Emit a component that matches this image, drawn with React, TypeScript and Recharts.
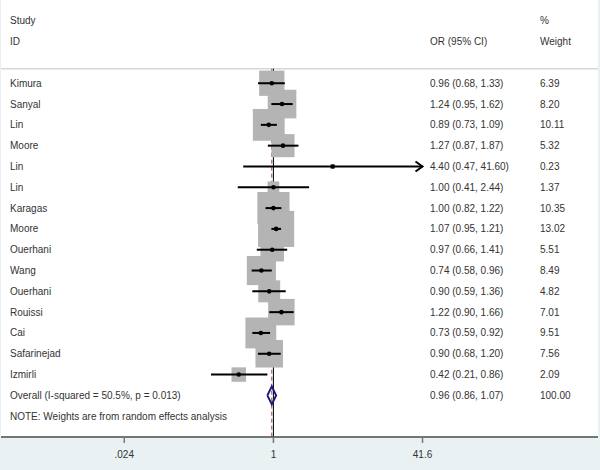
import React from 'react';
import { ComposedChart, Scatter, XAxis, YAxis, ReferenceLine, CartesianGrid } from 'recharts';

// ---- data ----
const studies = ['Kimura', 'Sanyal', 'Lin', 'Moore', 'Lin', 'Lin', 'Karagas', 'Moore', 'Ouerhani', 'Wang', 'Ouerhani', 'Rouissi', 'Cai', 'Safarinejad', 'Izmirli'];
const orValues = [0.96, 1.24, 0.89, 1.27, 4.40, 1.00, 1.00, 1.07, 0.97, 0.74, 0.90, 1.22, 0.73, 0.90, 0.42];
const ciLower = [0.68, 0.95, 0.73, 0.87, 0.47, 0.41, 0.82, 0.95, 0.66, 0.58, 0.59, 0.90, 0.59, 0.68, 0.21];
const ciUpper = [1.33, 1.62, 1.09, 1.87, 41.60, 2.44, 1.22, 1.21, 1.41, 0.96, 1.36, 1.66, 0.92, 1.20, 0.86];
const weights = [6.39, 8.20, 10.11, 5.32, 0.23, 1.37, 10.35, 13.02, 5.51, 8.49, 4.82, 7.01, 9.51, 7.56, 2.09];

const overallLabel = 'Overall  (I-squared = 50.5%, p = 0.013)';
const overallOR = 0.96;
const overallLower = 0.86;
const overallUpper = 1.07;
const overallWeight = 100.0;
const noteText = 'NOTE: Weights are from random effects analysis';

const headerTop = ['Study', '', '%'];
const headerBottom = ['ID', 'OR (95% CI)', 'Weight'];

const xTicks = [0.024, 1, 41.6];
const xTickLabels = ['.024', '1', '41.6'];

// ---- layout constants ----
const W = 600;
const H = 470;
const X_WINDOW: [number, number] = [0.0011, 3350];
const AXIS_HIGH = 41.6;
const Y_WINDOW: [number, number] = [-4, 17];
const SEPARATOR_ROW = -0.7;
const DIAMOND_HALF = 0.43;
const BOX_SCALE = 10;
const COL_X = [10, 430, 540];
const FONT = '"Liberation Sans", Arial, sans-serif';
const TEXT_COLOR = '#333';

const fmt = (v: number) => v.toFixed(2);

const n = studies.length;
const overallRow = n;
const noteRow = n + 1;

const studyRows = studies.map((s, i) => ({ x: orValues[i], y: i, w: weights[i] }));

const textRows = [
  { x: 1, y: -3, cols: headerTop },
  { x: 1, y: -2, cols: headerBottom },
  ...studies.map((s, i) => ({
    x: 1,
    y: i,
    cols: [s, `${fmt(orValues[i])} (${fmt(ciLower[i])}, ${fmt(ciUpper[i])})`, fmt(weights[i])],
  })),
  { x: 1, y: overallRow, cols: [overallLabel, `${fmt(overallOR)} (${fmt(overallLower)}, ${fmt(overallUpper)})`, fmt(overallWeight)] },
  { x: 1, y: noteRow, cols: [noteText, '', ''] },
];

const arrowRows = studies
  .map((s, i) => ({ x: AXIS_HIGH, y: i, over: ciUpper[i] >= AXIS_HIGH }))
  .filter((r) => r.over);

const diamond = [
  { x: overallLower, y: overallRow },
  { x: overallOR, y: overallRow - DIAMOND_HALF },
  { x: overallUpper, y: overallRow },
  { x: overallOR, y: overallRow + DIAMOND_HALF },
  { x: overallLower, y: overallRow },
];

const Empty = () => <g />;

const BoxShape = (p: any) => {
  const s = BOX_SCALE * Math.sqrt(p.payload.w);
  return <rect x={p.cx - s / 2} y={p.cy - s / 2} width={s} height={s} fill="#b4b4b4" />;
};

const DotShape = (p: any) => <circle cx={p.cx} cy={p.cy} r={2.3} fill="#000" />;

const ArrowShape = (p: any) => (
  <path d={`M${p.cx - 7},${p.cy - 5} L${p.cx},${p.cy} L${p.cx - 7},${p.cy + 5}`} stroke="#000" strokeWidth={2} fill="none" />
);

const TextShape = (p: any) => (
  <g>
    {p.payload.cols.map((c: string, k: number) =>
      c ? (
        <text key={k} x={COL_X[k]} y={p.cy} dy="0.35em" fontSize={10} fontFamily={FONT} fill={TEXT_COLOR}>
          {c}
        </text>
      ) : null
    )}
  </g>
);

export default function App() {
  const z: any = (v: number) => ({ zIndex: v });
  return (
    <div style={{ position: 'absolute', left: 0, top: 0, width: W, height: H, background: '#eaf1f3' }}>
      <ComposedChart width={W} height={H} margin={{ top: 0, right: 2, bottom: 0, left: 1 }}>
        <CartesianGrid fill="#ffffff" horizontal={false} vertical={false} />
        <XAxis
          type="number"
          dataKey="x"
          scale="log"
          domain={X_WINDOW}
          allowDataOverflow
          ticks={xTicks}
          tickFormatter={(v: number) => xTickLabels[xTicks.indexOf(v)] ?? String(v)}
          height={33}
          tickSize={6}
          tickMargin={8}
          axisLine={{ stroke: '#4a4a4a', strokeWidth: 1.5 }}
          tickLine={{ stroke: '#777', strokeWidth: 1.5 }}
          tick={{ fontSize: 10, fontFamily: FONT, fill: TEXT_COLOR }}
        />
        <YAxis type="number" dataKey="y" domain={Y_WINDOW} reversed hide width={0} allowDataOverflow />
        <ReferenceLine y={SEPARATOR_ROW} stroke="#d8d8d8" strokeWidth={1.5} {...z(100)} />
        <ReferenceLine
          segment={[{ x: 1, y: SEPARATOR_ROW }, { x: 1, y: Y_WINDOW[1] }]}
          stroke="#000"
          strokeWidth={1}
          {...z(110)}
        />
        <ReferenceLine
          segment={[{ x: overallOR, y: SEPARATOR_ROW }, { x: overallOR, y: Y_WINDOW[1] }]}
          stroke="#a04050"
          strokeWidth={1}
          strokeDasharray="4 3"
          {...z(120)}
        />
        <Scatter data={studyRows} shape={BoxShape} isAnimationActive={false} {...z(300)} />
        {studies.map((s, i) => (
          <ReferenceLine
            key={`ci-${i}`}
            segment={[{ x: ciLower[i], y: i }, { x: Math.min(ciUpper[i], AXIS_HIGH), y: i }]}
            stroke="#000"
            strokeWidth={2}
            {...z(700)}
          />
        ))}
        <Scatter data={studyRows} shape={DotShape} isAnimationActive={false} {...z(800)} />
        <Scatter data={arrowRows} shape={ArrowShape} isAnimationActive={false} {...z(800)} />
        <Scatter data={diamond} line={{ stroke: '#1a1a80', strokeWidth: 2 }} lineType="joint" shape={Empty} isAnimationActive={false} {...z(800)} />
        <Scatter data={textRows} shape={TextShape} isAnimationActive={false} {...z(900)} />
      </ComposedChart>
    </div>
  );
}
